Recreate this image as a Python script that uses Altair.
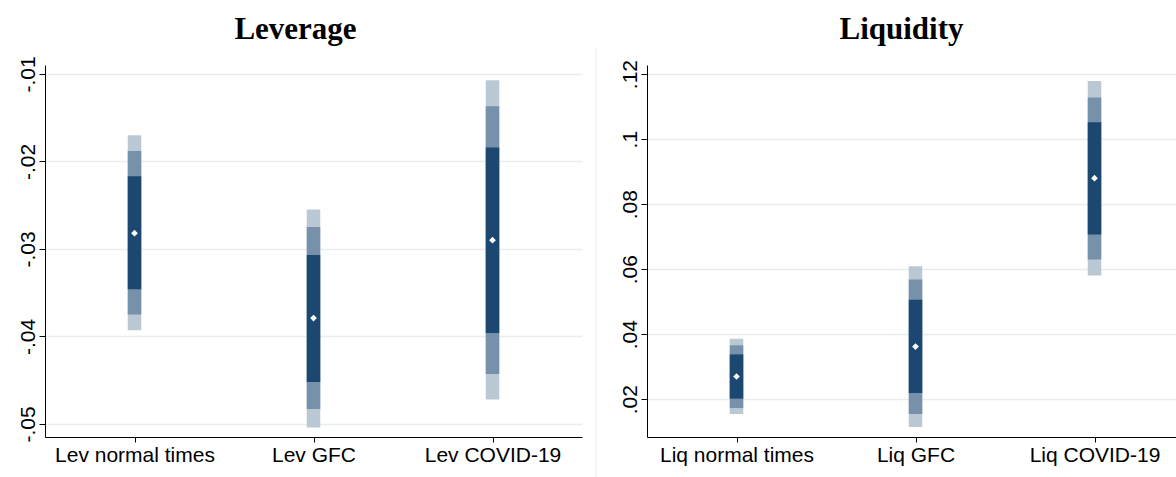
import altair as alt
import pandas as pd

# ---- Leverage panel values ----
lev_cats = ["Lev normal times", "Lev GFC", "Lev COVID-19"]
lev_point = [-0.0282, -0.0379, -0.0290]
lev_dark_lo = [-0.0346, -0.0452, -0.0396]
lev_dark_hi = [-0.0217, -0.0307, -0.0184]
lev_mid_lo = [-0.0375, -0.0483, -0.0443]
lev_mid_hi = [-0.0188, -0.0275, -0.0137]
lev_light_lo = [-0.0393, -0.0504, -0.0472]
lev_light_hi = [-0.0170, -0.0255, -0.0107]
lev_ticks = [-0.05, -0.04, -0.03, -0.02, -0.01]

# ---- Liquidity panel values ----
liq_cats = ["Liq normal times", "Liq GFC", "Liq COVID-19"]
liq_point = [0.0270, 0.0362, 0.0880]
liq_dark_lo = [0.0202, 0.0219, 0.0707]
liq_dark_hi = [0.0338, 0.0506, 0.1052]
liq_mid_lo = [0.0173, 0.0155, 0.0630]
liq_mid_hi = [0.0366, 0.0568, 0.1128]
liq_light_lo = [0.0155, 0.0115, 0.0581]
liq_light_hi = [0.0386, 0.0609, 0.1179]
liq_ticks = [0.02, 0.04, 0.06, 0.08, 0.10, 0.12]

DARK = "#1b4770"
MID = "#7891aa"
LIGHT = "#bac8d4"
GRID = "#e8eef0"
SEP = "#eaecee"
SANS = "Liberation Sans"
SERIF = "Liberation Serif"

Y_LABEL = "(datum.value < 0 ? '-' : '') + substring(format(abs(datum.value), '.2~f'), 1)"

STEP = 179  # pixel width of one category slot in both panels


def panel(cats, point, dlo, dhi, mlo, mhi, llo, lhi, title, ydom, yticks,
          width, title_dx, title_offset, separator=False):
    df = pd.DataFrame({
        "pos": list(range(len(cats))), "cat": cats, "point": point,
        "dlo": dlo, "dhi": dhi, "mlo": mlo, "mhi": mhi, "llo": llo, "lhi": lhi,
    })
    label_expr = "[" + ",".join("'" + c + "'" for c in cats) + "][datum.value]"
    xscale = alt.Scale(domain=[-0.5, -0.5 + width / STEP], nice=False, zero=False,
                       padding=0)
    xaxis = alt.Axis(values=list(range(len(cats))), labelExpr=label_expr, title=None,
                     grid=False, labelAngle=0, labelFont=SANS, labelFontSize=21,
                     labelColor="black", labelPadding=2, tickSize=5, tickColor="black",
                     domainColor="black", labelFlush=False, labelOverlap=False)
    yscale = alt.Scale(domain=ydom, nice=False, zero=False, padding=0)
    yaxis = alt.Axis(values=yticks, labelExpr=Y_LABEL, title=None, grid=True,
                     gridColor=GRID, gridWidth=1.5, labelAngle=270, labelAlign="center",
                     labelBaseline="alphabetic", labelFont=SANS, labelFontSize=21,
                     labelColor="black", labelPadding=5, tickSize=6, tickColor="black",
                     domainColor="black", labelFlush=False, labelOverlap=False)

    base = alt.Chart(df)
    x = alt.X("pos:Q", scale=xscale, axis=xaxis)

    def rng(lo, hi, color):
        return base.mark_bar(size=13.5, color=color, opacity=1).encode(
            x=x, y=alt.Y(lo + ":Q", scale=yscale, axis=yaxis), y2=hi + ":Q")

    pts = base.mark_point(shape="diamond", filled=True, color="white", size=45,
                          opacity=1).encode(
        x=x, y=alt.Y("point:Q", scale=yscale, axis=yaxis))

    layers = [rng("llo", "lhi", LIGHT), rng("mlo", "mhi", MID),
              rng("dlo", "dhi", DARK), pts]
    if separator:
        sep = alt.Chart(pd.DataFrame({"s": [0]})).mark_rule(
            color=SEP, strokeWidth=1).encode(
            x=alt.value(-51), y=alt.value(-17), y2=alt.value(412))
        layers.insert(0, sep)

    return alt.layer(*layers).properties(
        width=width, height=372,
        title=alt.TitleParams(title, font=SERIF, fontSize=31, fontWeight="bold",
                              color="black", anchor="middle", frame="group",
                              dx=title_dx, offset=title_offset))


left = panel(lev_cats, lev_point, lev_dark_lo, lev_dark_hi, lev_mid_lo, lev_mid_hi,
             lev_light_lo, lev_light_hi, "Leverage", [-0.0515, -0.00897], lev_ticks,
             537, -18, 10)
right = panel(liq_cats, liq_point, liq_dark_lo, liq_dark_hi, liq_mid_lo, liq_mid_hi,
              liq_light_lo, liq_light_hi, "Liquidity", [0.0084, 0.1228], liq_ticks,
              529, -10, 2, separator=True)

chart = alt.hconcat(left, right, spacing=65, bounds="flush").properties(
    padding={"left": 17, "top": 13, "right": 0, "bottom": 0},
    background="white",
).configure_view(stroke=None)

chart.save("out.html", embed_options={"renderer": "svg", "actions": False})
